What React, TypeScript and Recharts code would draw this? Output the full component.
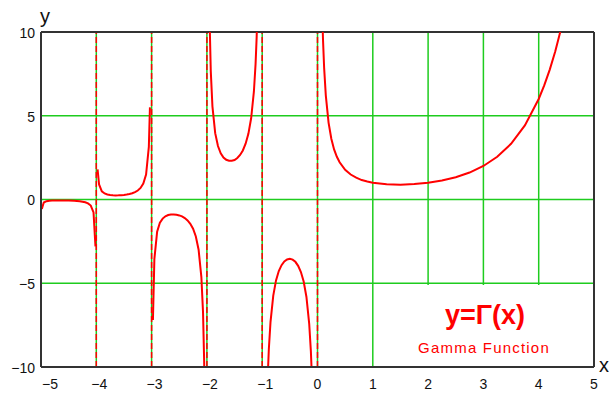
import {
  CartesianGrid,
  Line,
  LineChart,
  ReferenceArea,
  ReferenceLine,
  XAxis,
  YAxis,
} from "recharts";

// values, one array per branch between the poles
const branchA = [
  [-4.985, -0.56], [-4.95, -0.18], [-4.9, -0.1], [-4.85, -0.074], [-4.8, -0.062],
  [-4.7, -0.054], [-4.6, -0.054], [-4.5, -0.06], [-4.4, -0.074], [-4.3, -0.102],
  [-4.2, -0.164], [-4.15, -0.23], [-4.1, -0.364], [-4.05, -0.776], [-4.015, -2.8],
];
const branchB = [
  [-3.977, 1.8], [-3.95, 0.9], [-3.9, 0.49], [-3.85, 0.36], [-3.8, 0.3],
  [-3.75, 0.27], [-3.7, 0.25], [-3.65, 0.245], [-3.6, 0.247], [-3.55, 0.255],
  [-3.5, 0.27], [-3.45, 0.293], [-3.4, 0.326], [-3.35, 0.372], [-3.3, 0.439],
  [-3.25, 0.536], [-3.2, 0.689], [-3.15, 0.952], [-3.1, 1.49], [-3.05, 3.14],
  [-3.03, 5.5],
];
const branchC = [
  [-2.976, -7.2], [-2.95, -3.56], [-2.9, -1.92], [-2.85, -1.39], [-2.8, -1.14],
  [-2.75, -1.0], [-2.7, -0.93], [-2.65, -0.9], [-2.6, -0.89], [-2.55, -0.91],
  [-2.5, -0.95], [-2.45, -1.01], [-2.4, -1.11], [-2.35, -1.25], [-2.3, -1.45],
  [-2.25, -1.74], [-2.2, -2.21], [-2.15, -3.0], [-2.1, -4.63], [-2.07, -6.74],
  [-2.05, -9.58], [-2.04, -12.07],
];
const branchD = [
  [-1.96, 13.0], [-1.95, 10.51], [-1.93, 7.67], [-1.9, 5.56], [-1.85, 3.96],
  [-1.8, 3.19], [-1.75, 2.76], [-1.7, 2.51], [-1.65, 2.37], [-1.6, 2.31],
  [-1.55, 2.31], [-1.5, 2.36], [-1.45, 2.48], [-1.4, 2.66], [-1.35, 2.93],
  [-1.3, 3.33], [-1.25, 3.92], [-1.2, 4.85], [-1.15, 6.45], [-1.12, 8.08],
  [-1.1, 9.71], [-1.08, 12.19],
];
const branchE = [
  [-0.91, -11.67], [-0.9, -10.57], [-0.88, -8.94], [-0.85, -7.32], [-0.8, -5.74],
  [-0.75, -4.83], [-0.7, -4.27], [-0.65, -3.92], [-0.6, -3.7], [-0.55, -3.58],
  [-0.5, -3.54], [-0.45, -3.59], [-0.4, -3.72], [-0.35, -3.96], [-0.3, -4.33],
  [-0.25, -4.9], [-0.2, -5.82], [-0.15, -7.42], [-0.12, -9.05], [-0.1, -10.69],
];
const branchF = [
  [0.09, 10.62], [0.1, 9.51], [0.12, 7.86], [0.15, 6.22], [0.2, 4.59],
  [0.25, 3.63], [0.3, 2.99], [0.35, 2.55], [0.4, 2.22], [0.5, 1.77],
  [0.6, 1.49], [0.7, 1.3], [0.8, 1.16], [0.9, 1.07], [1, 1],
  [1.25, 0.906], [1.5, 0.886], [1.75, 0.919], [2, 1], [2.25, 1.133],
  [2.5, 1.329], [2.75, 1.608], [3, 2], [3.25, 2.549], [3.5, 3.323],
  [3.75, 4.423], [4, 6], [4.1, 6.813], [4.2, 7.757], [4.3, 8.855],
  [4.4, 10.136], [4.5, 11.63],
];

const xTicks = [-5, -4, -3, -2, -1, 0, 1, 2, 3, 4, 5];
const yTicks = [-10, -5, 0, 5, 10];
const poles = [-4, -3, -2, -1, 0];

const branches = [branchA, branchB, branchC, branchD, branchE, branchF];

const RED = "#ff0000";
const GREEN = "#1ecc1e";
const FRAME = "#333333";
const FONT = "'Liberation Sans', Arial, sans-serif";

const fmt = (v: number) => (v < 0 ? "\u2212" + Math.abs(v) : String(v));

const XTick = (props: any) => {
  const { x, y, payload } = props;
  const v = payload.value;
  const shift = v === -5 ? 9 : v < 0 ? 3 : 0;
  return (
    <text
      x={x + shift}
      y={y}
      dy="0.71em"
      textAnchor="middle"
      fontSize={14}
      fontFamily={FONT}
      fill="#111"
    >
      {fmt(v)}
    </text>
  );
};

const YTick = (props: any) => {
  const { x, y, payload } = props;
  return (
    <text
      x={x}
      y={y}
      dy="0.42em"
      textAnchor="end"
      fontSize={14}
      fontFamily={FONT}
      fill="#111"
    >
      {fmt(payload.value)}
    </text>
  );
};

export default function App() {
  return (
    <div
      style={{
        position: "absolute",
        left: 0,
        top: 0,
        width: 609,
        height: 394,
        background: "#fff",
        overflow: "hidden",
      }}
    >
      <LineChart
        width={609}
        height={394}
        margin={{ top: 32, right: 15, bottom: 0, left: 0 }}
      >
        <CartesianGrid stroke={GREEN} strokeWidth={1.5} />
        <XAxis
          type="number"
          dataKey="x"
          domain={[-5, 5]}
          ticks={xTicks}
          allowDataOverflow
          height={27}
          tickSize={0}
          tickMargin={12}
          tickLine={false}
          axisLine={{ stroke: FRAME, strokeWidth: 2 }}
          tick={<XTick />}
        />
        <YAxis
          type="number"
          domain={[-10, 10]}
          ticks={yTicks}
          allowDataOverflow
          width={41}
          tickSize={0}
          tickMargin={6}
          tickLine={false}
          axisLine={{ stroke: FRAME, strokeWidth: 2 }}
          tick={<YTick />}
        />
        <ReferenceArea
          x1={1.3}
          x2={4.97}
          y1={-9.95}
          y2={-5.1}
          fill="#fff"
          fillOpacity={1}
          stroke="none"
        />
        {poles.map((p) => (
          <ReferenceLine
            key={p}
            x={p}
            stroke={RED}
            strokeWidth={1.5}
            strokeDasharray="6 3"
          />
        ))}
        <ReferenceLine y={10} stroke={FRAME} strokeWidth={2} />
        <ReferenceLine x={5} stroke={FRAME} strokeWidth={2} />
        {branches.map((b, i) => (
          <Line
            key={i}
            data={b.map(([x, y]) => ({ x, y }))}
            dataKey="y"
            type="linear"
            stroke={RED}
            strokeWidth={2}
            dot={false}
            activeDot={false}
            isAnimationActive={false}
          />
        ))}
      </LineChart>
      <svg
        width={609}
        height={394}
        style={{ position: "absolute", left: 0, top: 0, pointerEvents: "none" }}
      >
        <text x={45} y={23} textAnchor="middle" fontSize={20} fontFamily={FONT} fill="#111">
          y
        </text>
        <text x={604} y={372} textAnchor="middle" fontSize={20} fontFamily={FONT} fill="#111">
          x
        </text>
        <text
          x={485}
          y={324}
          textAnchor="middle"
          fontSize={27}
          fontWeight="bold"
          fontFamily={FONT}
          fill={RED}
        >
          y=Γ(x)
        </text>
        <text
          x={484}
          y={353}
          textAnchor="middle"
          fontSize={15}
          letterSpacing={1.2}
          fontFamily={FONT}
          fill={RED}
        >
          Gamma Function
        </text>
      </svg>
    </div>
  );
}
